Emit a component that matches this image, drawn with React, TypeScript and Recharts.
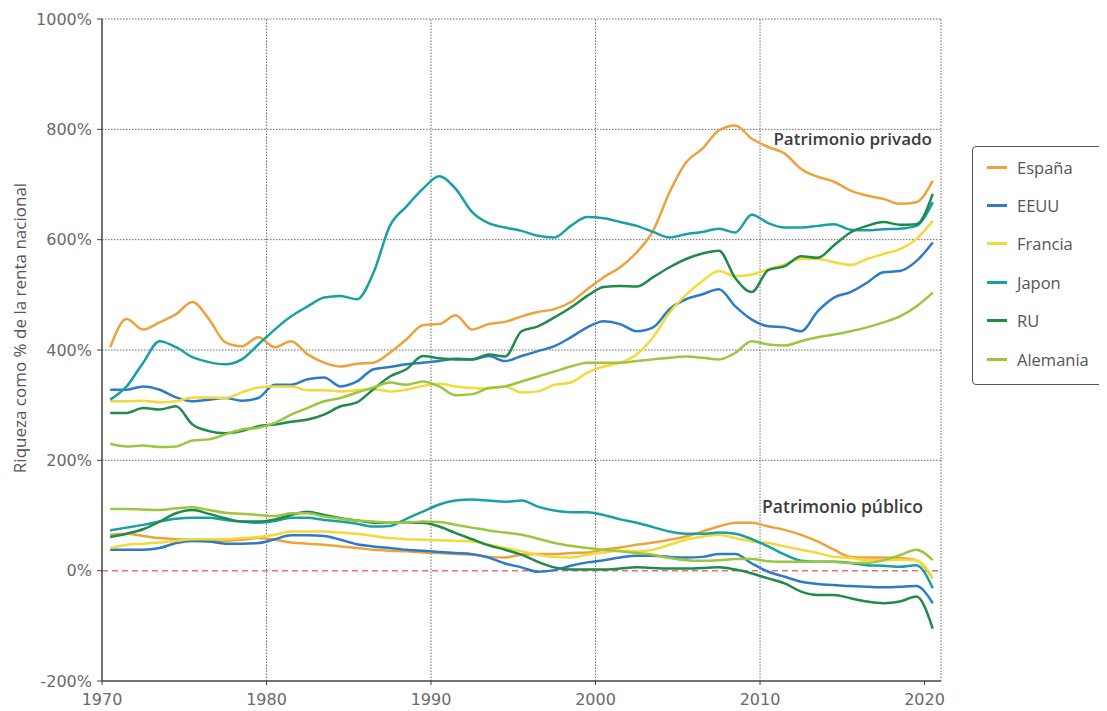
import React from "react"
import { LineChart, Line, XAxis, YAxis, ReferenceLine, Legend } from "recharts"

// años (cada dato se dibuja a mitad de año)
const years = [
  1970, 1971, 1972, 1973, 1974, 1975, 1976, 1977, 1978, 1979,
  1980, 1981, 1982, 1983, 1984, 1985, 1986, 1987, 1988, 1989,
  1990, 1991, 1992, 1993, 1994, 1995, 1996, 1997, 1998, 1999,
  2000, 2001, 2002, 2003, 2004, 2005, 2006, 2007, 2008, 2009,
  2010, 2011, 2012, 2013, 2014, 2015, 2016, 2017, 2018, 2019,
  2020,
]

const xTicks = [1970, 1980, 1990, 2000, 2010, 2020]
const yTicks = [-200, 0, 200, 400, 600, 800, 1000]
const gridY = [200, 400, 600, 800, 1000]
const gridX = [1980, 1990, 2000, 2010, 2021]

// patrimonio privado (% renta nacional)
const espanaPriv = [405, 456, 437, 450, 465, 487, 456, 414, 407, 423, 405, 416, 392, 377, 370, 375, 377, 395, 419, 445, 447, 463, 437, 447, 451, 461, 469, 474, 487, 510, 532, 550, 577, 616, 686, 740, 765, 798, 807, 783, 768, 756, 728, 714, 705, 689, 680, 674, 665, 668, 707]
const eeuuPriv = [328, 328, 334, 328, 314, 307, 310, 313, 308, 313, 337, 337, 347, 350, 334, 343, 365, 369, 374, 377, 380, 384, 383, 389, 380, 389, 398, 407, 423, 441, 452, 447, 434, 441, 474, 492, 501, 510, 479, 455, 443, 441, 434, 470, 495, 505, 522, 541, 543, 561, 595]
const franciaPriv = [307, 307, 308, 305, 307, 314, 314, 313, 323, 332, 334, 334, 327, 327, 325, 327, 329, 325, 328, 335, 339, 334, 331, 330, 334, 323, 325, 337, 341, 359, 370, 377, 392, 423, 468, 500, 525, 543, 534, 537, 546, 555, 565, 565, 559, 554, 565, 574, 583, 601, 634]
const japonPriv = [310, 334, 377, 416, 405, 387, 378, 374, 383, 410, 437, 461, 479, 495, 498, 492, 540, 625, 660, 692, 715, 692, 650, 630, 622, 616, 607, 604, 625, 641, 639, 632, 625, 614, 604, 610, 614, 620, 613, 645, 630, 622, 622, 625, 628, 618, 617, 619, 620, 625, 668]
const ruPriv = [286, 286, 295, 292, 298, 265, 253, 249, 253, 262, 265, 270, 274, 283, 298, 305, 329, 352, 365, 389, 385, 383, 383, 392, 388, 434, 443, 459, 477, 498, 514, 516, 515, 532, 550, 565, 575, 580, 530, 505, 545, 552, 570, 567, 590, 613, 625, 632, 627, 628, 683]
const alemaniaPriv = [230, 225, 227, 224, 225, 236, 238, 247, 256, 259, 268, 283, 295, 307, 313, 323, 332, 341, 337, 343, 334, 318, 320, 331, 334, 343, 352, 361, 370, 377, 377, 377, 380, 383, 386, 388, 386, 383, 395, 416, 410, 408, 416, 423, 428, 434, 441, 450, 461, 479, 504]

// patrimonio público
const espanaPub = [65, 67, 63, 59, 57, 56, 54, 54, 56, 59, 56, 51, 49, 47, 44, 41, 38, 36, 35, 33, 32, 30, 29, 25, 24, 29, 30, 30, 32, 33, 38, 42, 47, 51, 56, 62, 71, 80, 87, 87, 80, 74, 65, 53, 38, 25, 24, 24, 23, 19, -14]
const eeuuPub = [38, 38, 38, 41, 50, 54, 53, 49, 49, 50, 57, 64, 64, 63, 56, 48, 44, 41, 38, 36, 34, 32, 30, 24, 13, 6, -2, 1, 9, 15, 19, 24, 27, 27, 25, 24, 25, 30, 30, 13, -2, -11, -20, -24, -26, -28, -29, -30, -29, -28, -59]
const franciaPub = [41, 47, 49, 51, 54, 57, 57, 57, 59, 61, 65, 71, 71, 71, 69, 67, 63, 59, 57, 56, 55, 54, 53, 47, 41, 35, 29, 25, 24, 29, 33, 36, 35, 38, 47, 56, 62, 65, 59, 53, 50, 44, 38, 32, 25, 23, 19, 19, 20, 19, -14]
const japonPub = [73, 78, 83, 89, 94, 96, 96, 92, 89, 87, 90, 96, 96, 92, 89, 85, 80, 81, 94, 107, 120, 127, 129, 127, 125, 127, 116, 109, 106, 106, 101, 93, 87, 79, 71, 67, 67, 69, 67, 57, 44, 29, 18, 16, 16, 14, 10, 9, 7, 10, -32]
const ruPub = [61, 67, 75, 89, 104, 110, 103, 95, 89, 89, 93, 101, 107, 101, 95, 91, 87, 87, 87, 87, 80, 68, 57, 46, 38, 29, 16, 6, 2, 2, 2, 4, 6, 5, 4, 4, 5, 6, 2, -5, -14, -23, -38, -44, -44, -50, -56, -59, -56, -47, -105]
const alemaniaPub = [112, 112, 111, 110, 113, 115, 110, 105, 103, 101, 99, 104, 104, 98, 94, 91, 89, 87, 87, 89, 88, 83, 78, 73, 69, 65, 58, 50, 45, 41, 38, 35, 32, 29, 23, 19, 18, 19, 21, 21, 17, 16, 16, 16, 16, 14, 14, 19, 28, 38, 19]

const countries = [
  { name: "España", color: "#EDA33C", priv: espanaPriv, pub: espanaPub },
  { name: "EEUU", color: "#2C7BC6", priv: eeuuPriv, pub: eeuuPub },
  { name: "Francia", color: "#F3D93A", priv: franciaPriv, pub: franciaPub },
  { name: "Japon", color: "#19A0A3", priv: japonPriv, pub: japonPub },
  { name: "RU", color: "#1E8B4B", priv: ruPriv, pub: ruPub },
  { name: "Alemania", color: "#9DC63F", priv: alemaniaPriv, pub: alemaniaPub },
]

const data = years.map((y, i) => {
  const row: any = { x: y + 0.5 }
  countries.forEach((c, k) => {
    row[`priv${k}`] = c.priv[i]
    row[`pub${k}`] = c.pub[i]
  })
  return row
})

const tickStyle = { fill: "#6a6a6a", fontSize: 16, fontFamily: "DejaVu Sans" }
const gridStroke = "#6b6b6b"

const LegendBox = () => (
  <div
    style={{
      width: 131,
      height: 239,
      boxSizing: "border-box",
      border: "1.5px solid #555",
      borderRadius: 4,
      background: "#fff",
      paddingTop: 1,
      fontFamily: "Open Sans",
    }}
  >
    {countries.map((c) => (
      <div key={c.name} style={{ display: "flex", alignItems: "center", height: 38.4 }}>
        <div style={{ width: 20, height: 3, background: c.color, marginLeft: 14, marginRight: 10 }} />
        <span style={{ fontSize: 16.5, color: "#555" }}>{c.name}</span>
      </div>
    ))}
  </div>
)

export default function App() {
  return (
    <div style={{ width: 1099, height: 703, position: "relative", fontFamily: "Open Sans" }}>
      <LineChart width={1099} height={703} data={data} margin={{ top: 11, right: 166, bottom: 0, left: 0 }}>
        <XAxis
          type="number"
          dataKey="x"
          domain={[1970, 2021]}
          ticks={xTicks}
          allowDataOverflow
          tick={tickStyle}
          tickSize={4}
          tickMargin={9}
          height={30}
          axisLine={{ stroke: "#444", strokeWidth: 1.5 }}
          tickLine={{ stroke: "#444" }}
        />
        <YAxis
          type="number"
          domain={[-200, 1000]}
          ticks={yTicks}
          tickFormatter={(v: number) => `${v}%`}
          tick={tickStyle}
          width={94}
          tickSize={5}
          tickMargin={5}
          axisLine={{ stroke: "#444", strokeWidth: 1.5 }}
          tickLine={{ stroke: "#444" }}
        />
        {gridY.map((v) => (
          <ReferenceLine key={`gy${v}`} y={v} stroke={gridStroke} strokeDasharray="1.5 1.5" />
        ))}
        {gridX.map((v) => (
          <ReferenceLine key={`gx${v}`} x={v} stroke={gridStroke} strokeDasharray="1.5 1.5" />
        ))}
        <ReferenceLine y={0} stroke="#E8707C" strokeWidth={1.5} strokeDasharray="6 4" />
        {countries.map((c, k) => (
          <Line
            key={`priv${k}`}
            type="monotone"
            dataKey={`priv${k}`}
            stroke={c.color}
            strokeWidth={2.5}
            dot={false}
            legendType="none"
            isAnimationActive={false}
          />
        ))}
        {countries.map((c, k) => (
          <Line
            key={`pub${k}`}
            type="monotone"
            dataKey={`pub${k}`}
            stroke={c.color}
            strokeWidth={2.5}
            dot={false}
            legendType="none"
            isAnimationActive={false}
          />
        ))}
        <text x={924} y={137} textAnchor="end" fontSize={17} fontWeight={600} fill="#3c3c3c" fontFamily="Open Sans">
          Patrimonio privado
        </text>
        <text x={915} y={505} textAnchor="end" fontSize={17.5} fontWeight={600} fill="#3c3c3c" fontFamily="Open Sans">
          Patrimonio público
        </text>
        <text
          x={18}
          y={320}
          textAnchor="middle"
          transform="rotate(-90 18 320)"
          fontSize={17}
          fill="#555"
          fontFamily="Open Sans"
        >
          Riqueza como % de la renta nacional
        </text>
        <Legend
          layout="horizontal"
          verticalAlign="middle"
          align="center"
          content={() => <LegendBox />}
          wrapperStyle={{ left: 964, top: 138, width: 131, height: 239 }}
        />
      </LineChart>
    </div>
  )
}
